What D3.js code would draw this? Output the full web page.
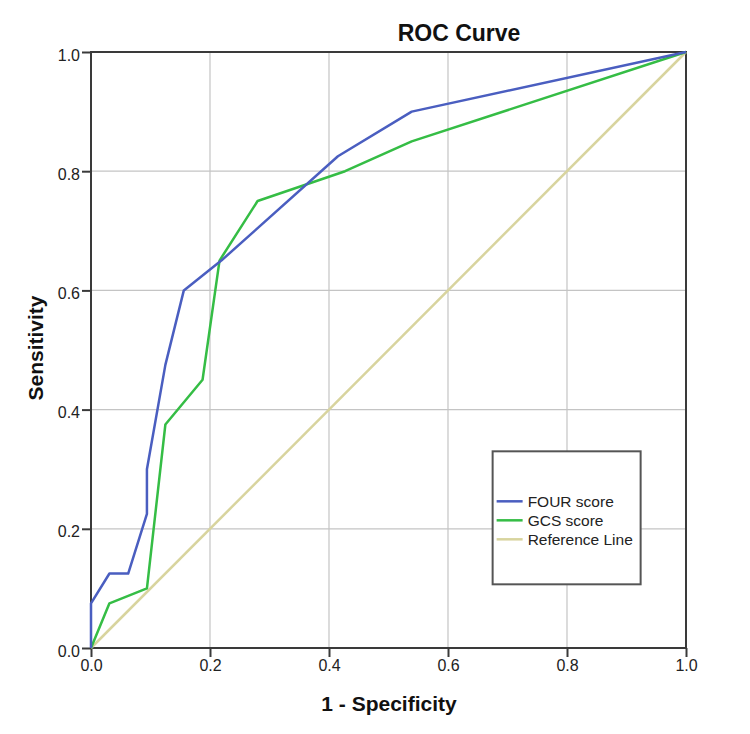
<!DOCTYPE html>
<html>
<head>
<meta charset="utf-8">
<script src="https://cdn.jsdelivr.net/npm/d3@7"></script>
<style>
  body { margin: 0; background: #fff; }
  svg { font-family: "Liberation Sans", Arial, sans-serif; }
  .tick text { font-size: 16px; fill: #222; font-family: "Liberation Sans", Arial, sans-serif; }
</style>
</head>
<body>
<div id="chart"></div>
<script>
// ROC points (x = 1 - specificity, y = sensitivity)
const fourX = [0, 0, 0.031, 0.0625, 0.094, 0.094, 0.125, 0.156, 0.219, 0.415, 0.539, 1];
const fourY = [0, 0.075, 0.125, 0.125, 0.225, 0.3, 0.475, 0.6, 0.65, 0.825, 0.9, 1];
const gcsX = [0, 0.031, 0.094, 0.125, 0.1875, 0.216, 0.28, 0.427, 0.539, 1];
const gcsY = [0, 0.075, 0.1, 0.375, 0.45, 0.65, 0.75, 0.8, 0.85, 1];
const refX = [0, 1];
const refY = [0, 1];
const tickValues = [0, 0.2, 0.4, 0.6, 0.8, 1.0];

const series = [
  { name: "FOUR score", xs: fourX, ys: fourY, color: "#4a5ec0" },
  { name: "GCS score", xs: gcsX, ys: gcsY, color: "#35bd45" },
  { name: "Reference Line", xs: refX, ys: refY, color: "#d8d49e" }
];

const W = 750, H = 734;
const margin = { top: 52, right: 64, bottom: 86, left: 91 };
const width = W - margin.left - margin.right;
const height = H - margin.top - margin.bottom;

const svg = d3.select("#chart").append("svg")
  .attr("width", W)
  .attr("height", H);

const g = svg.append("g")
  .attr("transform", `translate(${margin.left},${margin.top})`);

const x = d3.scaleLinear().domain([0, 1]).range([0, width]);
const y = d3.scaleLinear().domain([0, 1]).range([height, 0]);

// grid
g.append("g")
  .selectAll("line.vg")
  .data(tickValues.slice(1, -1))
  .enter().append("line")
  .attr("x1", d => x(d)).attr("x2", d => x(d))
  .attr("y1", 0).attr("y2", height)
  .attr("stroke", "#c4c4c4").attr("stroke-width", 1.2);

g.append("g")
  .selectAll("line.hg")
  .data(tickValues.slice(1, -1))
  .enter().append("line")
  .attr("y1", d => y(d)).attr("y2", d => y(d))
  .attr("x1", 0).attr("x2", width)
  .attr("stroke", "#c4c4c4").attr("stroke-width", 1.2);

// frame
g.append("rect")
  .attr("width", width).attr("height", height)
  .attr("fill", "none")
  .attr("stroke", "#3a3a3a").attr("stroke-width", 2);

// axes
const xAxis = g.append("g")
  .attr("transform", `translate(0,${height})`)
  .call(d3.axisBottom(x).tickValues(tickValues).tickFormat(d3.format(".1f")).tickSize(9).tickPadding(3));
const yAxis = g.append("g")
  .call(d3.axisLeft(y).tickValues(tickValues).tickFormat(d3.format(".1f")).tickSize(9).tickPadding(2));
[xAxis, yAxis].forEach(a => {
  a.select(".domain").remove();
  a.selectAll(".tick line").attr("stroke", "#3a3a3a").attr("stroke-width", 2);
});
yAxis.selectAll(".tick text").attr("dy", "0.5em");

// curves (reference first so it sits underneath)
const line = d3.line().x(d => x(d[0])).y(d => y(d[1]));
series.slice().reverse().forEach(s => {
  g.append("path")
    .datum(s.xs.map((v, i) => [v, s.ys[i]]))
    .attr("d", line)
    .attr("fill", "none")
    .attr("stroke", s.color)
    .attr("stroke-width", 2.5)
    .attr("stroke-linejoin", "round");
});

// legend
const lg = g.append("g").attr("transform", `translate(${x(0.675)},${y(0.33)})`);
lg.append("rect")
  .attr("width", 148).attr("height", 133)
  .attr("fill", "#fff")
  .attr("stroke", "#555").attr("stroke-width", 2);
series.forEach((s, i) => {
  const row = lg.append("g").attr("transform", `translate(4,${50 + i * 19})`);
  row.append("line")
    .attr("x1", 0).attr("x2", 26)
    .attr("stroke", s.color).attr("stroke-width", 2.5);
  row.append("text")
    .attr("x", 31).attr("dy", "0.35em")
    .style("font-size", "15.5px").style("fill", "#222")
    .text(s.name);
});

// titles
svg.append("text")
  .attr("x", 459).attr("y", 41)
  .attr("text-anchor", "middle")
  .style("font-size", "23px").style("font-weight", "bold").style("fill", "#111")
  .text("ROC Curve");

svg.append("text")
  .attr("x", 389).attr("y", 711)
  .attr("text-anchor", "middle")
  .style("font-size", "21px").style("font-weight", "bold").style("fill", "#111")
  .text("1 - Specificity");

svg.append("text")
  .attr("transform", `translate(43,348) rotate(-90)`)
  .attr("text-anchor", "middle")
  .style("font-size", "21px").style("font-weight", "bold").style("fill", "#111")
  .text("Sensitivity");
</script>
</body>
</html>
